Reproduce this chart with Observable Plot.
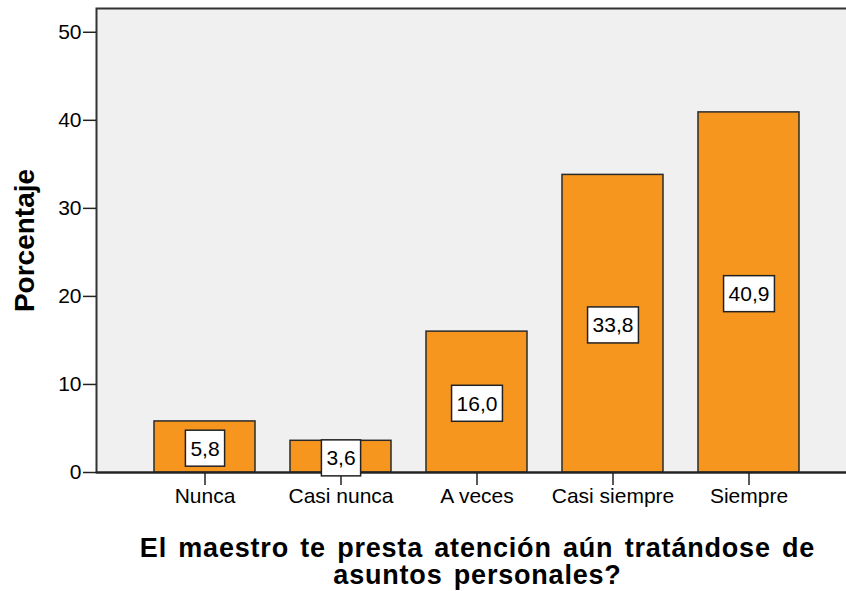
<!DOCTYPE html>
<html><head><meta charset="utf-8">
<script src="https://cdn.jsdelivr.net/npm/d3@7"></script>
<script src="https://cdn.jsdelivr.net/npm/@observablehq/plot@0.6"></script>
<style>
html,body{margin:0;padding:0;background:#fff;overflow:hidden;}
#chart svg{display:block;overflow:hidden;font-family:"Liberation Sans",Arial,sans-serif;}
#chart svg .xtitle text{letter-spacing:0.8px;word-spacing:3px;}
</style></head><body><div id="chart"></div>
<script>
const categories = ["Nunca", "Casi nunca", "A veces", "Casi siempre", "Siempre"];
const percentages = [5.8, 3.6, 16.0, 33.8, 40.9];
const valueLabels = ["5,8", "3,6", "16,0", "33,8", "40,9"];
const yTicks = [0, 10, 20, 30, 40, 50];
const yLabel = "Porcentaje";
const xTitle = "El maestro te presta atención aún tratándose de\nasuntos personales?";

const data = categories.map((c, i) => ({category: c, value: percentages[i], label: valueLabels[i]}));

const plot = Plot.plot({
  width: 846,
  height: 591,
  marginLeft: 96,
  marginRight: -12,
  marginTop: 8,
  marginBottom: 119,
  style: {fontFamily: "'Liberation Sans', Arial, sans-serif", fontSize: "21px", color: "#000", background: "#fff", overflow: "hidden"},
  x: {domain: categories, paddingInner: 0.255, paddingOuter: 0.41, align: 0.5},
  y: {domain: [0, 52.7]},
  marks: [
    Plot.frame({fill: "#f0f0f0", stroke: "#333", strokeWidth: 2}),
    Plot.barY(data, {x: "category", y: "value", fill: "#f7961e", stroke: "#2a2a2a", strokeWidth: 1.5}),
    Plot.ruleY([0], {stroke: "#222", strokeWidth: 2}),
    Plot.axisY(yTicks, {tickSize: 13, tickPadding: 2, fontSize: 21, stroke: "#222", strokeWidth: 1.5, fill: "#000", label: null, tickFormat: d => String(d)}),
    Plot.axisX({tickSize: 13, tickPadding: 3, fontSize: 21, stroke: "#222", strokeWidth: 1.5, fill: "#000", label: null}),
    Plot.text(data, {x: "category", y: d => d.value / 2, text: "label", fontSize: 21, fill: "#000", dy: 2, className: "vlabel"}),
    Plot.text([yLabel], {frameAnchor: "left", dx: -71, rotate: -90, textAnchor: "middle", lineAnchor: "middle", fontSize: 28, fontWeight: "bold", fill: "#000"}),
    Plot.text([xTitle], {frameAnchor: "bottom", lineAnchor: "top", textAnchor: "middle", dy: 65, fontSize: 27, fontWeight: "bold", lineHeight: 1, fill: "#000", className: "xtitle"})
  ]
});
document.getElementById("chart").appendChild(plot);

// white boxes behind the value labels, sized from the rendered text
let group = plot.querySelector("g.vlabel") || plot.querySelector(".vlabel");
if (!group) {
  const texts = Array.from(plot.querySelectorAll('g[aria-label="text"]'));
  group = texts[0];
}
if (group) {
  group.querySelectorAll("text").forEach(t => {
    const b = t.getBBox();
    const r = document.createElementNS("http://www.w3.org/2000/svg", "rect");
    const w = b.width + 10, h = 36;
    const cx = b.x + b.width / 2, cy = b.y + b.height / 2;
    r.setAttribute("x", cx - w / 2);
    r.setAttribute("y", cy - h / 2);
    r.setAttribute("width", w);
    r.setAttribute("height", h);
    r.setAttribute("fill", "#fff");
    r.setAttribute("stroke", "#222");
    r.setAttribute("stroke-width", "1.5");
    if (t.getAttribute("transform")) r.setAttribute("transform", t.getAttribute("transform"));
    t.parentNode.insertBefore(r, t);
  });
}
</script></body></html>
